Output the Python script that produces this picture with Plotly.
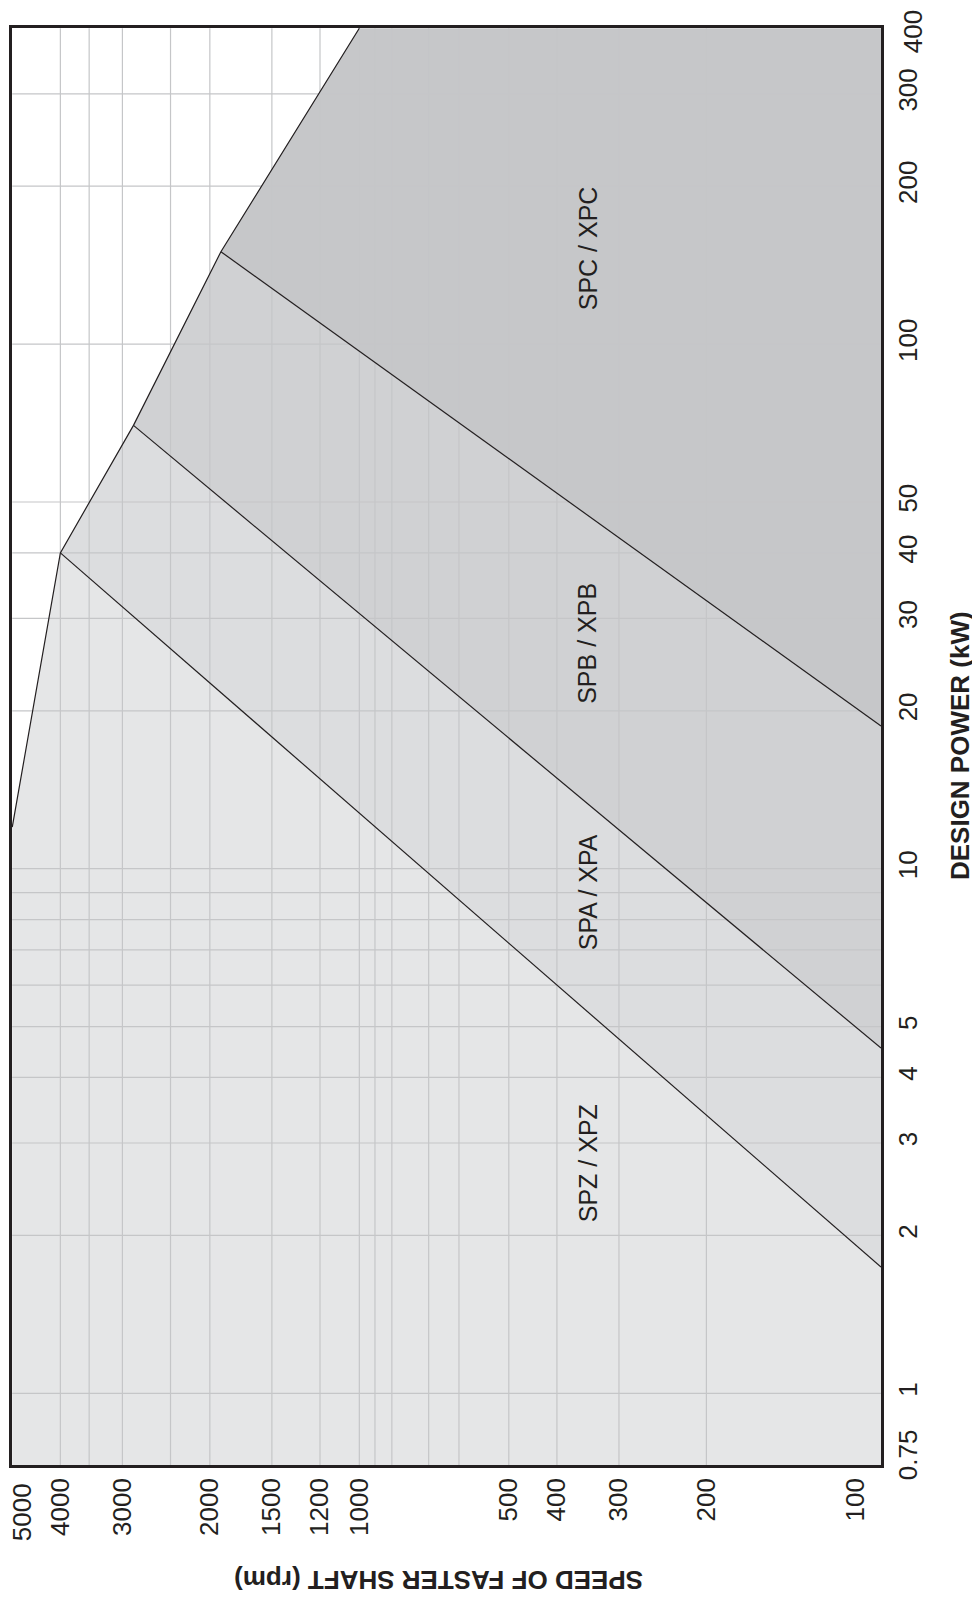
import math
import plotly.graph_objects as go

# ---------------- data ----------------
speed_range = [5000, 89]          # rpm, left -> right
power_range = [0.73, 400]         # kW, bottom -> top

speed_ticks = [5000, 4000, 3000, 2000, 1500, 1200, 1000, 500, 400, 300, 200, 100]
power_ticks = [0.75, 1, 2, 3, 4, 5, 10, 20, 30, 40, 50, 100, 200, 300, 400]

speed_grid = [4000, 3500, 3000, 2400, 2000, 1500, 1200, 1000, 930, 860, 725, 630, 500, 400, 300, 200]
power_grid = [1, 2, 3, 4, 5, 6, 7, 8, 9, 10, 20, 30, 40, 50, 100, 200, 300]

# upper envelope of the chart (speed rpm, power kW)
envelope_speed = [5000, 4000, 2850, 1900, 1000]
envelope_power = [12, 40, 70, 150, 400]

# section boundaries: from envelope vertex to right edge (89 rpm)
spz_spa_speed = [4000, 89]
spz_spa_power = [40, 1.74]
spa_spb_speed = [2850, 89]
spa_spb_power = [70, 4.55]
spb_spc_speed = [1900, 89]
spb_spc_power = [150, 18.7]

sections = ["SPZ / XPZ", "SPA / XPA", "SPB / XPB", "SPC / XPC"]
section_label_speed = [347, 347, 347, 347]
section_label_power = [2.74, 9.0, 26.9, 152]

# ---------------- styles ----------------
FONT = "Liberation Sans, Arial, Helvetica, sans-serif"
INK = "#231f20"
fills = ["#e5e6e7", "#dcdddf", "#d0d1d3", "#c6c7c9"]
GRID = "#c5c6c8"
TICK_SIZE = 26

smin, smax = speed_range[1], speed_range[0]
pmin, pmax = power_range

fig = go.Figure()

# region polygons
polys = [
    ([smax, smax, envelope_speed[1], spz_spa_speed[1], smin],
     [pmin, envelope_power[0], envelope_power[1], spz_spa_power[1], pmin]),
    ([envelope_speed[1], envelope_speed[2], spa_spb_speed[1], spz_spa_speed[1]],
     [envelope_power[1], envelope_power[2], spa_spb_power[1], spz_spa_power[1]]),
    ([envelope_speed[2], envelope_speed[3], spb_spc_speed[1], spa_spb_speed[1]],
     [envelope_power[2], envelope_power[3], spb_spc_power[1], spa_spb_power[1]]),
    ([envelope_speed[3], envelope_speed[4], smin, smin],
     [envelope_power[3], envelope_power[4], pmax, spb_spc_power[1]]),
]
for (xs, ys), c in zip(polys, fills):
    fig.add_trace(go.Scatter(x=xs, y=ys, fill="toself", fillcolor=c, mode="lines",
                             line=dict(width=0), hoverinfo="skip", showlegend=False))

# gridlines (drawn above fills)
gx, gy = [], []
for s in speed_grid:
    gx += [s, s, None]
    gy += [pmin, pmax, None]
for p in power_grid:
    gx += [smax, smin, None]
    gy += [p, p, None]
fig.add_trace(go.Scatter(x=gx, y=gy, mode="lines", line=dict(color=GRID, width=1.2),
                         hoverinfo="skip", showlegend=False))

# boundary lines
for xs, ys in [(envelope_speed, envelope_power), (spz_spa_speed, spz_spa_power),
               (spa_spb_speed, spa_spb_power), (spb_spc_speed, spb_spc_power)]:
    fig.add_trace(go.Scatter(x=xs, y=ys, mode="lines", line=dict(color=INK, width=1.2),
                             hoverinfo="skip", showlegend=False))

annotations = []
for name, s, p in zip(sections, section_label_speed, section_label_power):
    annotations.append(dict(x=math.log10(s), y=math.log10(p), xref="x", yref="y",
                            text=name, showarrow=False, textangle=-90,
                            font=dict(family=FONT, size=25, color=INK),
                            xanchor="center", yanchor="middle"))

# the two corner tick labels sit just inside the frame corner, as in the reference
corner_speed = speed_ticks[0]
corner_power = power_ticks[-1]
annotations.append(dict(x=math.log10(corner_speed), y=0, xref="x", yref="paper",
                        text=str(corner_speed), showarrow=False, textangle=-90,
                        font=dict(family=FONT, size=TICK_SIZE, color=INK),
                        xanchor="center", yanchor="top", xshift=10, yshift=-16))
annotations.append(dict(x=1, y=math.log10(corner_power), xref="paper", yref="y",
                        text=str(corner_power), showarrow=False, textangle=-90,
                        font=dict(family=FONT, size=TICK_SIZE, color=INK),
                        xanchor="left", yanchor="middle", xshift=15, yshift=-4))

annotations.append(dict(x=1.0909, y=0.501, xref="paper", yref="paper",
                        text="<b>DESIGN POWER (kW)</b>", showarrow=False, textangle=-90,
                        font=dict(family=FONT, size=26, color=INK),
                        xanchor="center", yanchor="middle"))
annotations.append(dict(x=0.4908, y=-0.080, xref="paper", yref="paper",
                        text="<b>SPEED OF FASTER SHAFT (rpm)</b>", showarrow=False, textangle=180,
                        font=dict(family=FONT, size=26, color=INK),
                        xanchor="center", yanchor="middle"))

x_text = ["" if v == corner_speed else str(v) for v in speed_ticks]
y_text = ["" if v == corner_power else str(v) for v in power_ticks]

# the page body adds an 8 px offset; margins compensate so the frame lands at
# x 12..881, y 28..1465 in the 980x1601 window
fig.update_layout(
    width=980, height=1601,
    margin=dict(l=4, r=107, t=20, b=144, autoexpand=False),
    paper_bgcolor="white", plot_bgcolor="white",
    showlegend=False,
    annotations=annotations,
    xaxis=dict(type="log", range=[math.log10(smax) + 0.0005, math.log10(smin)],
               tickvals=speed_ticks, ticktext=x_text,
               tickangle=-90, ticks="", showgrid=False, zeroline=False,
               showline=True, mirror=True, linecolor=INK, linewidth=2.5,
               tickfont=dict(family=FONT, size=TICK_SIZE, color=INK),
               ticklabelstandoff=0, automargin=False),
    yaxis=dict(type="log", range=[math.log10(pmin), math.log10(pmax) + 0.0005], side="right",
               tickvals=power_ticks, ticktext=y_text,
               tickangle=-90, ticks="", showgrid=False, zeroline=False,
               showline=True, mirror=True, linecolor=INK, linewidth=2.5,
               tickfont=dict(family=FONT, size=TICK_SIZE, color=INK),
               ticklabelstandoff=2, automargin=False),
)

fig.write_html("out.html")
